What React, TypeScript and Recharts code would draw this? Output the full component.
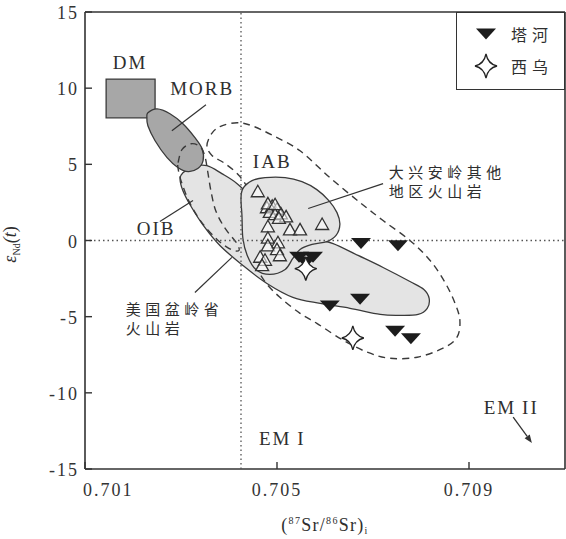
import React from 'react';
import {
  ScatterChart,
  Scatter,
  XAxis,
  YAxis,
  ReferenceLine,
  ReferenceArea,
  Legend,
  Label,
} from 'recharts';

// ---- axes ----
const X_DOMAIN: [number, number] = [0.701, 0.711];
const Y_DOMAIN: [number, number] = [-15, 15];
const X_TICKS = [0.701, 0.705, 0.709];
const Y_TICKS = [-15, -10, -5, 0, 5, 10, 15];
const SR_BULK = 0.70425;

// ---- samples ----
// 塔河
const taheSamples = [
  { x: 0.70675, y: -0.2 },
  { x: 0.70752, y: -0.35 },
  { x: 0.70546, y: -1.1 },
  { x: 0.70575, y: -1.1 },
  { x: 0.7056, y: -1.45 },
  { x: 0.7061, y: -4.3 },
  { x: 0.70673, y: -3.85 },
  { x: 0.70746, y: -5.95 },
  { x: 0.70779, y: -6.45 },
];

// 西乌
const xiwuSamples = [
  { x: 0.7056, y: -1.85 },
  { x: 0.70658, y: -6.4 },
];

// 大兴安岭其他地区火山岩
const dxalSamples = [
  { x: 0.7046, y: 3.2 },
  { x: 0.70479, y: 2.15 },
  { x: 0.7049, y: 2.25 },
  { x: 0.705, y: 2.05 },
  { x: 0.70485, y: 1.85 },
  { x: 0.70496, y: 1.7 },
  { x: 0.70508, y: 1.75 },
  { x: 0.70519, y: 1.55 },
  { x: 0.70504, y: 1.45 },
  { x: 0.70481, y: 2.4 },
  { x: 0.70496, y: 2.35 },
  { x: 0.70481, y: 0.9 },
  { x: 0.70527, y: 0.7 },
  { x: 0.70548, y: 0.7 },
  { x: 0.70594, y: 1.05 },
  { x: 0.70481, y: 0.15 },
  { x: 0.70502, y: -0.15 },
  { x: 0.70481, y: -0.35 },
  { x: 0.705, y: -0.6 },
  { x: 0.70465, y: -1.1 },
  { x: 0.70475, y: -1.3 },
  { x: 0.70506, y: -1.0 },
  { x: 0.70469, y: -1.65 },
];

// ---- reservoir fields ----
const dmBox = { x1: 0.70144, x2: 0.70246, y1: 8.05, y2: 10.6 };

const morbOutline = [
  { x: 0.70231, y: 8.38 },
  { x: 0.7025, y: 8.64 },
  { x: 0.70277, y: 8.32 },
  { x: 0.70304, y: 7.66 },
  { x: 0.70329, y: 6.75 },
  { x: 0.70344, y: 6.02 },
  { x: 0.70346, y: 5.24 },
  { x: 0.70335, y: 4.72 },
  { x: 0.70315, y: 4.52 },
  { x: 0.70294, y: 4.78 },
  { x: 0.70271, y: 5.44 },
  { x: 0.70246, y: 6.55 },
  { x: 0.70231, y: 7.53 },
  { x: 0.70229, y: 8.06 },
];

// OIB + 美国盆岭省火山岩
const oibBasinOutline = [
  { x: 0.70304, y: 4.45 },
  { x: 0.70325, y: 4.85 },
  { x: 0.70354, y: 4.91 },
  { x: 0.70385, y: 4.39 },
  { x: 0.70417, y: 3.73 },
  { x: 0.70454, y: 2.62 },
  { x: 0.70502, y: 1.18 },
  { x: 0.70538, y: 0.0 },
  { x: 0.70558, y: -0.26 },
  { x: 0.70585, y: 0.0 },
  { x: 0.70617, y: -0.2 },
  { x: 0.70669, y: -0.98 },
  { x: 0.70721, y: -1.77 },
  { x: 0.70777, y: -2.69 },
  { x: 0.70806, y: -3.21 },
  { x: 0.70817, y: -3.8 },
  { x: 0.70813, y: -4.45 },
  { x: 0.70794, y: -4.85 },
  { x: 0.70756, y: -4.91 },
  { x: 0.70715, y: -4.85 },
  { x: 0.70652, y: -4.45 },
  { x: 0.7059, y: -4.13 },
  { x: 0.70533, y: -3.73 },
  { x: 0.70479, y: -2.82 },
  { x: 0.70429, y: -1.64 },
  { x: 0.70381, y: -0.33 },
  { x: 0.70348, y: 0.92 },
  { x: 0.70321, y: 2.23 },
  { x: 0.70304, y: 3.27 },
  { x: 0.70298, y: 4.06 },
];

// 大兴安岭其他地区火山岩 field
const dxalOutline = [
  { x: 0.70429, y: 3.41 },
  { x: 0.70448, y: 3.93 },
  { x: 0.70475, y: 4.13 },
  { x: 0.70517, y: 4.13 },
  { x: 0.70552, y: 3.86 },
  { x: 0.70583, y: 3.34 },
  { x: 0.70608, y: 2.62 },
  { x: 0.70625, y: 1.83 },
  { x: 0.70631, y: 1.05 },
  { x: 0.70623, y: 0.33 },
  { x: 0.70604, y: -0.07 },
  { x: 0.70573, y: -0.26 },
  { x: 0.70548, y: -0.59 },
  { x: 0.70533, y: -1.18 },
  { x: 0.70517, y: -1.9 },
  { x: 0.70485, y: -2.23 },
  { x: 0.70456, y: -1.9 },
  { x: 0.70438, y: -0.98 },
  { x: 0.70429, y: 0.13 },
  { x: 0.70427, y: 1.64 },
  { x: 0.70425, y: 2.75 },
];

// OIB (dashed)
const oibDashedOutline = [
  { x: 0.70294, y: 5.11 },
  { x: 0.70302, y: 5.96 },
  { x: 0.70321, y: 6.35 },
  { x: 0.7034, y: 6.16 },
  { x: 0.7035, y: 5.5 },
  { x: 0.70356, y: 4.45 },
  { x: 0.70363, y: 3.14 },
  { x: 0.70373, y: 1.9 },
  { x: 0.70392, y: 0.79 },
  { x: 0.70415, y: -0.13 },
  { x: 0.70421, y: -0.65 },
  { x: 0.70404, y: -0.59 },
  { x: 0.70375, y: 0.07 },
  { x: 0.70342, y: 1.24 },
  { x: 0.70317, y: 2.55 },
  { x: 0.703, y: 3.93 },
  { x: 0.70294, y: 4.72 },
];

// IAB (dashed)
const iabDashedOutline = [
  { x: 0.70354, y: 6.22 },
  { x: 0.70365, y: 7.07 },
  { x: 0.70385, y: 7.53 },
  { x: 0.70417, y: 7.73 },
  { x: 0.70448, y: 7.53 },
  { x: 0.70492, y: 6.88 },
  { x: 0.70548, y: 5.89 },
  { x: 0.7061, y: 4.13 },
  { x: 0.70673, y: 2.49 },
  { x: 0.70721, y: 1.31 },
  { x: 0.70777, y: 0.0 },
  { x: 0.70819, y: -1.31 },
  { x: 0.7085, y: -2.75 },
  { x: 0.70871, y: -4.13 },
  { x: 0.70881, y: -5.24 },
  { x: 0.70875, y: -6.35 },
  { x: 0.70846, y: -7.07 },
  { x: 0.70792, y: -7.66 },
  { x: 0.70735, y: -7.73 },
  { x: 0.70688, y: -7.33 },
  { x: 0.70638, y: -6.55 },
  { x: 0.70583, y: -5.44 },
  { x: 0.70548, y: -4.78 },
  { x: 0.70506, y: -3.73 },
  { x: 0.70473, y: -2.62 },
  { x: 0.70456, y: -1.44 },
  { x: 0.70452, y: 0.65 },
  { x: 0.70444, y: 2.95 },
  { x: 0.70423, y: 4.19 },
  { x: 0.70392, y: 5.04 },
  { x: 0.70365, y: 5.57 },
];

// ---- guides (bulk-earth Sr and chondritic Nd) ----
const bulkSrGuide = [
  { x: SR_BULK, y: Y_DOMAIN[0] },
  { x: SR_BULK, y: Y_DOMAIN[1] },
];
const churGuide = [
  { x: X_DOMAIN[0], y: 0 },
  { x: X_DOMAIN[1], y: 0 },
];

// ---- annotations ----
const latinLabels = [
  { x: 0.70194, y: 11.66, text: 'DM' },
  { x: 0.70344, y: 9.95, text: 'MORB' },
  { x: 0.7049, y: 5.17, text: 'IAB' },
  { x: 0.70248, y: 0.79, text: 'OIB' },
  { x: 0.70511, y: -12.97, text: 'EM\u2009I' },
  { x: 0.70988, y: -10.93, text: 'EM\u2009II' },
];

const cjkLabels = [
  { x: 0.70733, y: 4.52, text: '大兴安岭其他' },
  { x: 0.70733, y: 3.27, text: '地区火山岩' },
  { x: 0.70185, y: -4.45, text: '美国盆岭省' },
  { x: 0.70185, y: -5.7, text: '火山岩' },
];

const leaderLines = [
  [{ x: 0.70352, y: 8.91 }, { x: 0.70281, y: 7.2 }],
  [{ x: 0.70256, y: 1.24 }, { x: 0.70325, y: 2.62 }],
  [{ x: 0.70721, y: 3.73 }, { x: 0.70565, y: 2.1 }],
  [{ x: 0.70329, y: -3.41 }, { x: 0.70406, y: -1.11 }],
];

const em2Arrow = [
  { x: 0.70992, y: -11.59 },
  { x: 0.71031, y: -13.29 },
];

// ---- styling ----
const SERIF = "'Liberation Serif', 'DejaVu Serif', serif";
const CJK = "'Noto Sans CJK SC', 'Noto Sans CJK TC', sans-serif";
const INK = '#2e2e2e';
const LIGHT_FILL = '#e4e4e4';
const DARK_FILL = '#a7a7a7';

type Pt = { x: number; y: number };

// Closed Catmull-Rom spline through the outline vertices (pixel space)
function smoothClosedPath(pts: Pt[]): string {
  const n = pts.length;
  if (!n) return '';
  let d = `M${pts[0].x},${pts[0].y}`;
  for (let i = 0; i < n; i++) {
    const p0 = pts[(i - 1 + n) % n];
    const p1 = pts[i];
    const p2 = pts[(i + 1) % n];
    const p3 = pts[(i + 2) % n];
    const c1x = p1.x + (p2.x - p0.x) / 6;
    const c1y = p1.y + (p2.y - p0.y) / 6;
    const c2x = p2.x - (p3.x - p1.x) / 6;
    const c2y = p2.y - (p3.y - p1.y) / 6;
    d += `C${c1x},${c1y} ${c2x},${c2y} ${p2.x},${p2.y}`;
  }
  return d + 'Z';
}

const fieldLine =
  (fill: string, dashed: boolean) =>
  (p: any) =>
    (
      <path
        d={smoothClosedPath(p.points || [])}
        fill={fill}
        stroke="#3a3a3a"
        strokeWidth={dashed ? 1.4 : 1.3}
        strokeDasharray={dashed ? '7 5' : undefined}
      />
    );

const NoDot = () => <g />;

const arrowLine = (p: any) => {
  const pts: Pt[] = p.points || [];
  if (pts.length < 2) return <g />;
  const { x: x1, y: y1 } = pts[0];
  const { x: x2, y: y2 } = pts[1];
  const a = Math.atan2(y2 - y1, x2 - x1);
  const len = 8;
  const w = 3.2;
  const bx = x2 - len * Math.cos(a);
  const by = y2 - len * Math.sin(a);
  const nx = -Math.sin(a) * w;
  const ny = Math.cos(a) * w;
  return (
    <g>
      <line x1={x1} y1={y1} x2={bx} y2={by} stroke="#333" strokeWidth={1.3} />
      <path d={`M${x2},${y2}L${bx + nx},${by + ny}L${bx - nx},${by - ny}Z`} fill="#333" />
    </g>
  );
};

// ---- markers ----
const downTrianglePath = (cx: number, cy: number) =>
  `M${cx - 10},${cy - 5.5}L${cx + 10},${cy - 5.5}L${cx},${cy + 5.5}Z`;

const starPath = (cx: number, cy: number) =>
  `M${cx},${cy - 12}Q${cx + 2},${cy - 2} ${cx + 11},${cy}` +
  `Q${cx + 2},${cy + 2} ${cx},${cy + 12}` +
  `Q${cx - 2},${cy + 2} ${cx - 11},${cy}` +
  `Q${cx - 2},${cy - 2} ${cx},${cy - 12}Z`;

const upTrianglePath = (cx: number, cy: number) =>
  `M${cx},${cy - 6.5}L${cx + 6.5},${cy + 5}L${cx - 6.5},${cy + 5}Z`;

const TaheMarker = (p: any) => <path d={downTrianglePath(p.cx, p.cy)} fill="#1c1c1c" />;
const XiwuMarker = (p: any) => (
  <path d={starPath(p.cx, p.cy)} fill="#fff" stroke="#222" strokeWidth={1.3} />
);
const DxalMarker = (p: any) => (
  <path
    d={upTrianglePath(p.cx, p.cy)}
    fill="#fff"
    fillOpacity={0.55}
    stroke="#333"
    strokeWidth={1.3}
  />
);

const LatinText = (p: any) => (
  <text
    x={p.cx}
    y={p.cy}
    textAnchor="middle"
    dominantBaseline="central"
    fontFamily={SERIF}
    fontSize={19}
    letterSpacing={2}
    fill={INK}
  >
    {p.payload.text}
  </text>
);

const CjkText = (p: any) => (
  <text
    x={p.cx}
    y={p.cy}
    textAnchor="start"
    dominantBaseline="central"
    fontFamily={CJK}
    fontSize={15}
    letterSpacing={4.5}
    fill={INK}
  >
    {p.payload.text}
  </text>
);

// ---- axis ticks (drawn inward) ----
const XTick = (p: any) => {
  const { x, y, payload, index } = p;
  const first = index === 0;
  return (
    <g>
      <line x1={x} y1={y} x2={x} y2={y - 7} stroke="#333" strokeWidth={1.4} />
      <text
        x={first ? x - 2 : x}
        y={y + 27}
        textAnchor={first ? 'start' : 'middle'}
        fontFamily={SERIF}
        fontSize={18}
        letterSpacing={2}
        fill="#333"
      >
        {Number(payload.value).toFixed(3)}
      </text>
    </g>
  );
};

const YTick = (p: any) => {
  const { x, y, payload } = p;
  return (
    <g>
      <line x1={x} y1={y} x2={x + 7} y2={y} stroke="#333" strokeWidth={1.4} />
      <text
        x={x - 6}
        y={y + 7}
        textAnchor="end"
        fontFamily={SERIF}
        fontSize={18}
        letterSpacing={2}
        fill="#333"
      >
        {payload.value}
      </text>
    </g>
  );
};

const XTitle = (p: any) => {
  const vb = p.viewBox || { x: 0, y: 0, width: 0, height: 0 };
  return (
    <text
      x={vb.x + vb.width / 2}
      y={vb.y + 62}
      textAnchor="middle"
      fontFamily={SERIF}
      fontSize={18}
      letterSpacing={1.3}
      fill={INK}
    >
      <tspan>(</tspan>
      <tspan fontSize={10} dy={-7}>87</tspan>
      <tspan dy={7}>Sr/</tspan>
      <tspan fontSize={10} dy={-7}>86</tspan>
      <tspan dy={7}>Sr)</tspan>
      <tspan fontSize={10} dy={3}>i</tspan>
    </text>
  );
};

const YTitle = (p: any) => {
  const vb = p.viewBox || { x: 0, y: 0, width: 0, height: 0 };
  const cx = vb.x + 16;
  const cy = vb.y + vb.height / 2 + 4;
  return (
    <text
      x={cx}
      y={cy}
      transform={`rotate(-90, ${cx}, ${cy})`}
      textAnchor="middle"
      fontFamily={SERIF}
      fontSize={18}
      fontStyle="italic"
      fill={INK}
    >
      <tspan>ε</tspan>
      <tspan fontSize={10} fontStyle="normal" dy={4}>Nd</tspan>
      <tspan dy={-4}>(</tspan>
      <tspan>t</tspan>
      <tspan fontStyle="normal">)</tspan>
    </text>
  );
};

const LegendBox = () => (
  <div
    style={{
      boxSizing: 'border-box',
      width: 109,
      height: 78,
      border: '1.5px solid #333',
      background: '#fff',
      position: 'relative',
    }}
  >
    <svg width={106} height={75} style={{ position: 'absolute', left: 0, top: 0 }}>
      <path d={downTrianglePath(29, 21)} fill="#1c1c1c" />
      <path d={starPath(29, 53)} fill="#fff" stroke="#222" strokeWidth={1.3} />
      <text
        x={54}
        y={21}
        dominantBaseline="central"
        fontFamily={CJK}
        fontSize={16}
        letterSpacing={5}
        fill={INK}
      >
        塔河
      </text>
      <text
        x={54}
        y={53}
        dominantBaseline="central"
        fontFamily={CJK}
        fontSize={16}
        letterSpacing={5}
        fill={INK}
      >
        西乌
      </text>
    </svg>
  </div>
);

const guideStroke = { stroke: '#555', strokeWidth: 1.3, strokeDasharray: '1.5 3' };
const leaderStroke = { stroke: '#333', strokeWidth: 1.2 };

export default function App() {
  return (
    <div style={{ position: 'absolute', left: 0, top: 0, width: 566, height: 539, background: '#fff' }}>
      <ScatterChart width={566} height={539} margin={{ top: 12, right: 1, bottom: 0, left: 0 }}>
        <XAxis
          type="number"
          dataKey="x"
          domain={X_DOMAIN}
          ticks={X_TICKS}
          interval={0}
          allowDataOverflow
          height={70}
          tickSize={0}
          tickMargin={0}
          tickLine={false}
          tick={XTick}
          axisLine={{ stroke: '#333', strokeWidth: 1.6 }}
        >
          <Label content={XTitle} />
        </XAxis>
        <YAxis
          type="number"
          dataKey="y"
          domain={Y_DOMAIN}
          ticks={Y_TICKS}
          interval={0}
          allowDataOverflow
          width={85}
          tickSize={0}
          tickMargin={0}
          tickLine={false}
          tick={YTick}
          axisLine={{ stroke: '#333', strokeWidth: 1.6 }}
        >
          <Label content={YTitle} />
        </YAxis>

        <ReferenceArea
          x1={dmBox.x1}
          x2={dmBox.x2}
          y1={dmBox.y1}
          y2={dmBox.y2}
          fill={DARK_FILL}
          fillOpacity={1}
          stroke="#3a3a3a"
          strokeWidth={1.3}
        />
        <ReferenceLine y={Y_DOMAIN[1]} stroke="#333" strokeWidth={1.6} />
        <ReferenceLine x={X_DOMAIN[1]} stroke="#333" strokeWidth={1.6} />

        {/* fields */}
        <Scatter
          data={oibBasinOutline}
          isAnimationActive={false}
          shape={NoDot}
          line={fieldLine(LIGHT_FILL, false)}
          lineType="joint"
          legendType="none"
        />
        <Scatter
          data={morbOutline}
          isAnimationActive={false}
          shape={NoDot}
          line={fieldLine(DARK_FILL, false)}
          lineType="joint"
          legendType="none"
        />
        <Scatter
          data={oibDashedOutline}
          isAnimationActive={false}
          shape={NoDot}
          line={fieldLine('none', true)}
          lineType="joint"
          legendType="none"
        />
        <Scatter
          data={iabDashedOutline}
          isAnimationActive={false}
          shape={NoDot}
          line={fieldLine('none', true)}
          lineType="joint"
          legendType="none"
        />
        <Scatter
          data={dxalOutline}
          isAnimationActive={false}
          shape={NoDot}
          line={fieldLine(LIGHT_FILL, false)}
          lineType="joint"
          legendType="none"
        />

        {/* dotted guides */}
        <Scatter data={bulkSrGuide} isAnimationActive={false} shape={NoDot} line={guideStroke} lineType="joint" legendType="none" />
        <Scatter data={churGuide} isAnimationActive={false} shape={NoDot} line={guideStroke} lineType="joint" legendType="none" />

        {/* leader lines and EM II arrow */}
        {leaderLines.map((seg, i) => (
          <Scatter
            key={`leader-${i}`}
            data={seg}
            isAnimationActive={false}
            shape={NoDot}
            line={leaderStroke}
            lineType="joint"
            legendType="none"
          />
        ))}
        <Scatter data={em2Arrow} isAnimationActive={false} shape={NoDot} line={arrowLine} lineType="joint" legendType="none" />

        {/* samples */}
        <Scatter data={dxalSamples} isAnimationActive={false} shape={DxalMarker} legendType="none" />
        <Scatter data={taheSamples} isAnimationActive={false} shape={TaheMarker} name="塔河" />
        <Scatter data={xiwuSamples} isAnimationActive={false} shape={XiwuMarker} name="西乌" />

        {/* text */}
        <Scatter data={latinLabels} isAnimationActive={false} shape={LatinText} legendType="none" />
        <Scatter data={cjkLabels} isAnimationActive={false} shape={CjkText} legendType="none" />

        <Legend
          layout="vertical"
          align="center"
          verticalAlign="middle"
          width={109}
          height={78}
          wrapperStyle={{ left: 456, top: 12, width: 109, height: 78 }}
          content={() => <LegendBox />}
        />
      </ScatterChart>
    </div>
  );
}
